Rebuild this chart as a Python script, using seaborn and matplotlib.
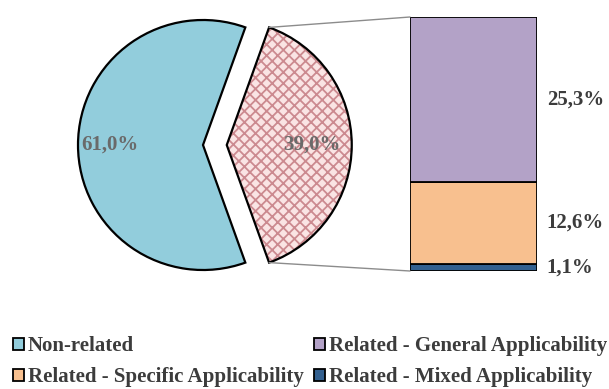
"""Pie-of-bar chart: share of related vs non-related items."""

import matplotlib

matplotlib.use("Agg")
import matplotlib.pyplot as plt
import numpy as np
import seaborn as sns
from matplotlib.patches import ConnectionPatch, Patch, Wedge


# data
pie_labels = ["Non-related", "Related"]
pie_values = [61.0, 39.0]
bar_labels = [
    "Related - Mixed Applicability",
    "Related - Specific Applicability",
    "Related - General Applicability",
]
bar_values = [1.1, 12.6, 25.3]

CYAN = "#92CDDC"
PINK = "#FAE4E4"
PINK_HATCH = "#CC8A90"
PURPLE = "#B3A2C7"
ORANGE = "#F8C08F"
DARK_BLUE = "#33608F"
bar_colors = [DARK_BLUE, ORANGE, PURPLE]

TEXT = "#3C3C3C"
PIE_TEXT = "#6A6A6A"
FS = 15

sns.set_theme(style="white")
plt.rcParams.update(
    {
        "font.family": ["Liberation Serif", "DejaVu Serif"],
        "font.weight": "bold",
        "hatch.linewidth": 1.3,
    }
)


def fmt(value: float) -> str:
    return f"{value:.1f}%".replace(".", ",")


W, H = 609, 389
fig = plt.figure(figsize=(W / 100, H / 100), dpi=100)

# pie axes: centre at (203, 145) px, radius 125 px
cx, cy, half = 203, 145, 160
ax_pie = fig.add_axes([(cx - half) / W, (H - cy - half) / H, 2 * half / W, 2 * half / H])
wedges, _, autotexts = ax_pie.pie(
    pie_values,
    colors=[CYAN, PINK],
    explode=[0, 0.19],
    startangle=70.2,
    counterclock=True,
    autopct=lambda p: fmt(p),
    wedgeprops={"linewidth": 1.6, "edgecolor": "black"},
    textprops={"fontsize": FS, "color": PIE_TEXT, "fontweight": "bold"},
)
lim = half / 125
ax_pie.set_xlim(-lim, lim)
ax_pie.set_ylim(-lim, lim)

# place the percentage labels along each wedge's mid angle
for wedge, text, dist in zip(wedges, autotexts, [0.745, 0.68]):
    mid = np.radians((wedge.theta1 + wedge.theta2) / 2)
    text.set_position((wedge.center[0] + dist * np.cos(mid), wedge.center[1] + dist * np.sin(mid)))
    text.set_zorder(5)

# hatch on the related wedge, then redraw its outline in black
related = wedges[1]
related.set_hatch("xxx")
related.set_edgecolor(PINK_HATCH)
related.set_linewidth(0)
outline = Wedge(related.center, related.r, related.theta1, related.theta2,
                facecolor="none", edgecolor="black", linewidth=1.6, zorder=related.get_zorder() + 0.1)
ax_pie.add_patch(outline)

# stacked bar axes
bx0, bx1, by0, by1 = 410, 537, 17, 271
ax_bar = fig.add_axes([bx0 / W, (H - by1) / H, (bx1 - bx0) / W, (by1 - by0) / H])
bottom = 0.0
for label, value, color in zip(bar_labels, bar_values, bar_colors):
    ax_bar.bar(0, value, width=1.0, bottom=bottom, color=color, edgecolor="black", linewidth=1.3)
    ax_bar.annotate(fmt(value), xy=(0.5, bottom + value / 2), xytext=(7, 0),
                    textcoords="offset points", ha="left", va="center",
                    fontsize=FS, color=TEXT, fontweight="bold", annotation_clip=False)
    bottom += value
ax_bar.set_xlim(-0.5, 0.5)
ax_bar.set_ylim(0, bottom)
ax_bar.axis("off")

# connector lines from wedge corners to bar corners
for theta, ybar in [(related.theta2, bottom), (related.theta1, 0)]:
    px = related.center[0] + related.r * np.cos(np.radians(theta))
    py = related.center[1] + related.r * np.sin(np.radians(theta))
    con = ConnectionPatch(xyA=(px, py), coordsA=ax_pie.transData,
                          xyB=(-0.5, ybar), coordsB=ax_bar.transData,
                          color="#8C8C8C", linewidth=1.0)
    fig.add_artist(con)

# legend
handles = {
    "Non-related": Patch(facecolor=CYAN, edgecolor="black", linewidth=1.3),
    "Related - Specific Applicability": Patch(facecolor=ORANGE, edgecolor="black", linewidth=1.3),
    "Related - General Applicability": Patch(facecolor=PURPLE, edgecolor="black", linewidth=1.3),
    "Related - Mixed Applicability": Patch(facecolor=DARK_BLUE, edgecolor="black", linewidth=1.3),
}
leg = fig.legend(
    list(handles.values()),
    list(handles.keys()),
    ncol=2,
    loc="upper left",
    bbox_to_anchor=(13 / W, (H - 336) / H),
    frameon=False,
    fontsize=FS,
    handlelength=0.52,
    handleheight=0.52,
    handletextpad=0.2,
    columnspacing=0.5,
    labelspacing=0.55,
    borderaxespad=0,
    borderpad=0,
)
for text in leg.get_texts():
    text.set_color(TEXT)

fig.savefig("out.png", dpi=100, facecolor="white")
